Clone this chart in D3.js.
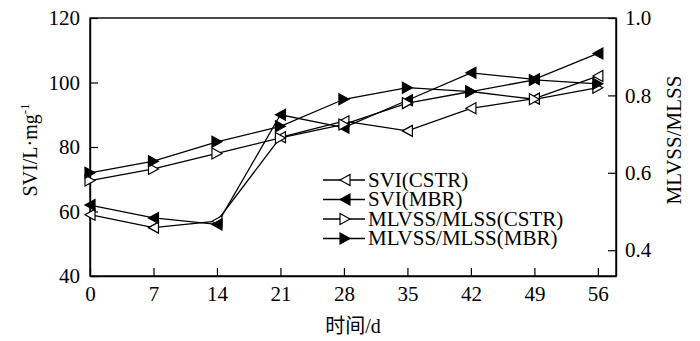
<!DOCTYPE html>
<html>
<head>
<meta charset="utf-8">
<script src="https://cdn.jsdelivr.net/npm/d3@7"></script>
<style>
  html, body { margin: 0; padding: 0; background: #fff; }
  svg text { font-family: "Liberation Serif", "Times New Roman", "Noto Sans CJK SC", serif !important; fill: #000; }
</style>
</head>
<body>
<svg id="chart" width="700" height="341"></svg>
<script>
const days = [0, 7, 14, 21, 28, 35, 42, 49, 56];
const sviCSTR = [59, 55, 57, 83, 88, 85, 92, 95, 102];
const sviMBR = [62, 58, 56, 90, 86, 94.5, 103, 101, 109];
const ratioCSTR = [0.58, 0.61, 0.65, 0.69, 0.725, 0.78, 0.81, 0.79, 0.82];
const ratioMBR = [0.60, 0.63, 0.68, 0.72, 0.79, 0.82, 0.81, 0.84, 0.83];
const leftTicks = [40, 60, 80, 100, 120];
const rightTicks = [0.4, 0.6, 0.8, 1.0];
const xTicks = [0, 7, 14, 21, 28, 35, 42, 49, 56];
const seriesNames = ["SVI(CSTR)", "SVI(MBR)", "MLVSS/MLSS(CSTR)", "MLVSS/MLSS(MBR)"];

const FONT = '"Liberation Serif", "Times New Roman", "Noto Sans CJK SC", serif';
const svg = d3.select("#chart");
const L = 90, R = 616, T = 18, B = 276;

const x = d3.scaleLinear().domain([0, 58]).range([L, R]);
const yL = d3.scaleLinear().domain([40, 120]).range([B, T]);
const yR = d3.scaleLinear().domain([1/3, 1.0]).range([B, T]);

const series = [
  { name: seriesNames[0], values: sviCSTR, scale: yL, dir: "left", filled: false },
  { name: seriesNames[1], values: sviMBR, scale: yL, dir: "left", filled: true },
  { name: seriesNames[2], values: ratioCSTR, scale: yR, dir: "right", filled: false },
  { name: seriesNames[3], values: ratioMBR, scale: yR, dir: "right", filled: true }
];

function triPath(dir, w, h) {
  if (dir === "left") return `M${-w/2},0 L${w/2},${-h/2} L${w/2},${h/2} Z`;
  return `M${w/2},0 L${-w/2},${-h/2} L${-w/2},${h/2} Z`;
}

// frame
svg.append("rect").attr("x", L).attr("y", T).attr("width", R - L).attr("height", B - T)
  .attr("fill", "none").attr("stroke", "#000").attr("stroke-width", 1.4);

// axes (ticks inward)
const axL = d3.axisLeft(yL).tickValues(leftTicks).tickSizeInner(-8).tickSizeOuter(0).tickPadding(18);
const gL = svg.append("g").attr("transform", `translate(${L},0)`).call(axL);
const axR = d3.axisRight(yR).tickValues(rightTicks).tickSizeInner(-8).tickSizeOuter(0).tickPadding(17)
  .tickFormat(d3.format(".1f"));
const gR = svg.append("g").attr("transform", `translate(${R},0)`).call(axR);
const axB = d3.axisBottom(x).tickValues(xTicks).tickSizeInner(-8).tickSizeOuter(0).tickPadding(18);
const gB = svg.append("g").attr("transform", `translate(0,${B})`).call(axB);

[gL, gR, gB].forEach(g => {
  g.attr("font-family", FONT).attr("font-size", 21);
  g.select(".domain").attr("stroke", "#000").attr("stroke-width", 1.4);
  g.selectAll(".tick line").attr("stroke", "#000").attr("stroke-width", 1.2);
  g.selectAll(".tick text").attr("font-size", 21).attr("fill", "#000");
});
gR.selectAll(".tick text").attr("x", 9);
gB.selectAll(".tick text").attr("y", 10);
gL.selectAll(".tick text").attr("x", -10);

// lines and markers
series.forEach(s => {
  const line = d3.line().x((d, i) => x(days[i])).y(d => s.scale(d));
  svg.append("path").datum(s.values).attr("d", line)
    .attr("fill", "none").attr("stroke", "#000").attr("stroke-width", 1.3);
});
series.forEach(s => {
  svg.append("g").selectAll("path").data(s.values).join("path")
    .attr("transform", (d, i) => `translate(${x(days[i])},${s.scale(d)})`)
    .attr("d", triPath(s.dir, 10, 11))
    .attr("fill", s.filled ? "#000" : "#fff")
    .attr("stroke", "#000").attr("stroke-width", 1.2);
});

// legend
const lg = svg.append("g");
series.forEach((s, i) => {
  const yy = 180 + i * 19.5;
  lg.append("line").attr("x1", 323).attr("x2", 365).attr("y1", yy).attr("y2", yy)
    .attr("stroke", "#000").attr("stroke-width", 1.3);
  lg.append("path").attr("transform", `translate(345,${yy})`).attr("d", triPath(s.dir, 10, 11))
    .attr("fill", s.filled ? "#000" : "#fff").attr("stroke", "#000").attr("stroke-width", 1.2);
  lg.append("text").attr("x", 368).attr("y", yy).attr("dy", "0.33em")
    .attr("font-family", FONT).attr("font-size", 21).text(s.name);
});

// axis titles
const yt = svg.append("text").attr("transform", "translate(37,150) rotate(-90)")
  .attr("text-anchor", "middle").attr("font-family", FONT).attr("font-size", 20);
yt.append("tspan").text("SVI/L·mg");
yt.append("tspan").attr("font-size", 13).attr("dy", -8).text("-1");

svg.append("text").attr("transform", "translate(681,140) rotate(-90)")
  .attr("text-anchor", "middle").attr("font-family", FONT).attr("font-size", 21).text("MLVSS/MLSS");

svg.append("text").attr("x", 353).attr("y", 333).attr("text-anchor", "middle")
  .attr("font-family", FONT).attr("font-size", 20).text("时间/d");
</script>
</body>
</html>
